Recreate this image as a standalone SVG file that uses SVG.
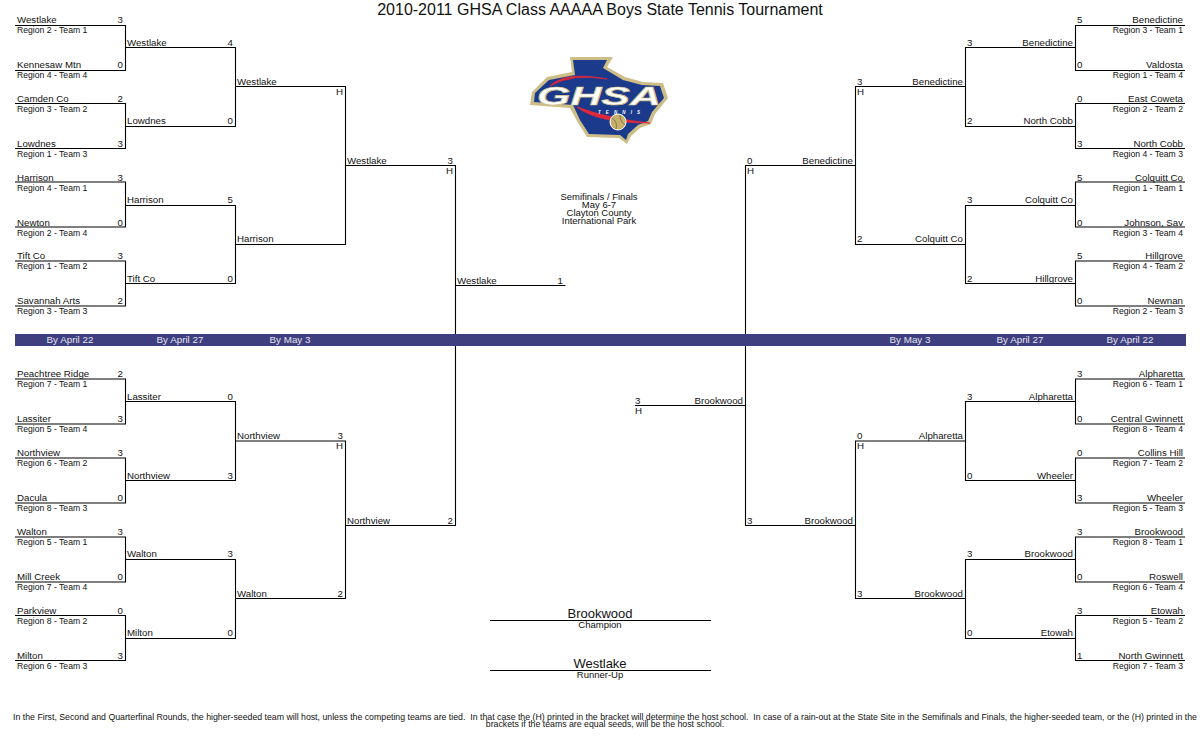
<svg xmlns="http://www.w3.org/2000/svg" width="1200" height="750" viewBox="0 0 1200 750">
<style>
text{font-family:"Liberation Sans",Arial,sans-serif;font-size:9.7px;fill:#111}
.e{text-anchor:end}.m{text-anchor:middle}
.r{font-size:8.65px}
.l{fill:none;stroke:#000;stroke-width:1.1}
.d{fill:#e4e4f0;font-size:9.8px;text-anchor:middle}
.c{font-size:9.5px;text-anchor:middle}
.f{font-size:8.75px;text-anchor:middle;white-space:pre}
</style>
<rect width="1200" height="750" fill="#fff"/>
<g id="connectors" class="l">
<path d="M15 25.5H125.5V70.5H15M15 103.5H125.5V148.5H15M15 182H125.5V227H15M15 261H125.5V306H15M15 379H125.5V424H15M15 458H125.5V503H15M15 537H125.5V582H15M15 615.5H125.5V660.5H15"/>
<path d="M125.5 47.5H235.5V126.5H125.5M125.5 205.5H235.5V283.5H125.5M125.5 401.5H235.5V480.5H125.5M125.5 559.5H235.5V638.5H125.5"/>
<path d="M235.5 86.5H345.5V244.5H235.5M235.5 441H345.5V598.5H235.5"/>
<path d="M345.5 165.5H455.5V525.5H345.5M455.5 285.5H565.5"/>
<path d="M1185 25.5H1075.5V70.5H1185M1185 103.5H1075.5V148.5H1185M1185 182H1075.5V227H1185M1185 261H1075.5V306H1185M1185 379H1075.5V424H1185M1185 458H1075.5V503H1185M1185 537H1075.5V582H1185M1185 615.5H1075.5V660.5H1185"/>
<path d="M1075.5 47.5H965.5V126.5H1075.5M1075.5 205.5H965.5V283.5H1075.5M1075.5 401.5H965.5V480.5H1075.5M1075.5 559.5H965.5V638.5H1075.5"/>
<path d="M965.5 86.5H855.5V244.5H965.5M965.5 441H855.5V598.5H965.5"/>
<path d="M855.5 165.5H745.5V525.5H855.5M745.5 405.5H635"/>
<path d="M490 620.5H711M490 670.5H711"/>
</g>
<g id="band"><rect x="15" y="334" width="1171" height="12" fill="#3f3f7f"/>
<text class="d" x="70" y="343">By April 22</text><text class="d" x="180" y="343">By April 27</text><text class="d" x="290" y="343">By May 3</text>
<text class="d" x="910" y="343">By May 3</text><text class="d" x="1020" y="343">By April 27</text><text class="d" x="1130" y="343">By April 22</text></g>
<g id="title"><text class="m" x="600" y="15" style="font-size:16px">2010-2011 GHSA Class AAAAA Boys State Tennis Tournament</text></g>
<g id="logo">
<path d="M570 57H613L607 67L625 77L643 82L663 83L668 98L655 114L651 124L640 128L631 136L627 144L619 138L587 137L577 121L570 108L530 105L532 92L547 77L572 72Z" fill="#cdbd86"/>
<path d="M573 60H607L603 68L623 80L642 85L660 86L664 98L652 112L648 121L638 125L628 134L626 140L620 135L589 134L580 120L573 105L534 102L535 93L549 80L575 75Z" fill="#1b3a8c"/>
<path d="M550 86Q565 71 607 79Q572 73 550 86ZM577 107Q597 123 650 123Q610 119 577 107Z" fill="#e2283a" stroke="#e2283a" stroke-width=".8"/>
<text id="ghsa" x="537" y="105" textLength="124" lengthAdjust="spacingAndGlyphs" style="font-size:25px;font-weight:bold;font-style:italic;fill:#fff;stroke:#cdbd86;stroke-width:.7">GHSA</text>
<text x="598" y="114" textLength="42" style="font-size:4.5px;font-weight:bold;font-style:italic;fill:#fff">TENNIS</text>
<circle cx="618" cy="122" r="8" fill="#c8b06a" stroke="#fff"/>
<path d="M612 118Q618 122 616 129M620 115Q620 122 625 125" fill="none" stroke="#5a5030" stroke-width=".6"/>
</g>
<g id="venue"><text class="c" x="599" y="200">Semifinals / Finals</text><text class="c" x="599" y="208">May 6-7</text><text class="c" x="599" y="216">Clayton County</text><text class="c" x="599" y="224">International Park</text></g>
<g id="champion"><text class="m" x="600" y="618" style="font-size:13px">Brookwood</text><text class="c" x="600" y="628">Champion</text></g>
<g id="runner-up"><text class="m" x="600" y="668" style="font-size:13px">Westlake</text><text class="c" x="600" y="678">Runner-Up</text></g>
<g id="footer"><text class="f" x="605" y="720">In the First, Second and Quarterfinal Rounds, the higher-seeded team will host, unless the competing teams are tied.  In that case the (H) printed in the bracket will determine the host school.  In case of a rain-out at the State Site in the Semifinals and Finals, the higher-seeded team, or the (H) printed in the</text><text class="f" x="605" y="727">brackets if the teams are equal seeds, will be the host school.</text></g>
<g id="left-round1">
<g id="l1"><text x="17" y="23">Westlake</text><text class="e" x="123" y="23">3</text><text class="r" x="17" y="33">Region 2 - Team 1</text></g>
<g id="l2"><text x="17" y="68">Kennesaw Mtn</text><text class="e" x="123" y="68">0</text><text class="r" x="17" y="78">Region 4 - Team 4</text></g>
<g id="l3"><text x="17" y="102">Camden Co</text><text class="e" x="123" y="102">2</text><text class="r" x="17" y="112">Region 3 - Team 2</text></g>
<g id="l4"><text x="17" y="147">Lowdnes</text><text class="e" x="123" y="147">3</text><text class="r" x="17" y="157">Region 1 - Team 3</text></g>
<g id="l5"><text x="17" y="181">Harrison</text><text class="e" x="123" y="181">3</text><text class="r" x="17" y="191">Region 4 - Team 1</text></g>
<g id="l6"><text x="17" y="226">Newton</text><text class="e" x="123" y="226">0</text><text class="r" x="17" y="236">Region 2 - Team 4</text></g>
<g id="l7"><text x="17" y="259">Tift Co</text><text class="e" x="123" y="259">3</text><text class="r" x="17" y="269">Region 1 - Team 2</text></g>
<g id="l8"><text x="17" y="304">Savannah Arts</text><text class="e" x="123" y="304">2</text><text class="r" x="17" y="314">Region 3 - Team 3</text></g>
<g id="l9"><text x="17" y="377">Peachtree Ridge</text><text class="e" x="123" y="377">2</text><text class="r" x="17" y="387">Region 7 - Team 1</text></g>
<g id="l10"><text x="17" y="422">Lassiter</text><text class="e" x="123" y="422">3</text><text class="r" x="17" y="432">Region 5 - Team 4</text></g>
<g id="l11"><text x="17" y="456">Northview</text><text class="e" x="123" y="456">3</text><text class="r" x="17" y="466">Region 6 - Team 2</text></g>
<g id="l12"><text x="17" y="501">Dacula</text><text class="e" x="123" y="501">0</text><text class="r" x="17" y="511">Region 8 - Team 3</text></g>
<g id="l13"><text x="17" y="535">Walton</text><text class="e" x="123" y="535">3</text><text class="r" x="17" y="545">Region 5 - Team 1</text></g>
<g id="l14"><text x="17" y="580">Mill Creek</text><text class="e" x="123" y="580">0</text><text class="r" x="17" y="590">Region 7 - Team 4</text></g>
<g id="l15"><text x="17" y="614">Parkview</text><text class="e" x="123" y="614">0</text><text class="r" x="17" y="624">Region 8 - Team 2</text></g>
<g id="l16"><text x="17" y="659">Milton</text><text class="e" x="123" y="659">3</text><text class="r" x="17" y="669">Region 6 - Team 3</text></g>
</g>
<g id="left-round2">
<g id="l17"><text x="127" y="46">Westlake</text><text class="e" x="233" y="46">4</text></g>
<g id="l18"><text x="127" y="124">Lowdnes</text><text class="e" x="233" y="124">0</text></g>
<g id="l19"><text x="127" y="203">Harrison</text><text class="e" x="233" y="203">5</text></g>
<g id="l20"><text x="127" y="282">Tift Co</text><text class="e" x="233" y="282">0</text></g>
<g id="l21"><text x="127" y="400">Lassiter</text><text class="e" x="233" y="400">0</text></g>
<g id="l22"><text x="127" y="479">Northview</text><text class="e" x="233" y="479">3</text></g>
<g id="l23"><text x="127" y="557">Walton</text><text class="e" x="233" y="557">3</text></g>
<g id="l24"><text x="127" y="636">Milton</text><text class="e" x="233" y="636">0</text></g>
</g>
<g id="left-round3">
<g id="l25"><text x="237" y="85">Westlake</text><text class="e" x="343" y="95">H</text></g>
<g id="l26"><text x="237" y="242">Harrison</text></g>
<g id="l27"><text x="237" y="439">Northview</text><text class="e" x="343" y="439">3</text><text class="e" x="343" y="449">H</text></g>
<g id="l28"><text x="237" y="597">Walton</text><text class="e" x="343" y="597">2</text></g>
</g>
<g id="left-round4">
<g id="l29"><text x="347" y="164">Westlake</text><text class="e" x="453" y="164">3</text><text class="e" x="453" y="174">H</text></g>
<g id="l30"><text x="347" y="524">Northview</text><text class="e" x="453" y="524">2</text></g>
<g id="l31"><text x="457" y="284">Westlake</text><text class="e" x="563" y="284">1</text></g>
</g>
<g id="right-round1">
<g id="r1"><text class="e" x="1183" y="23">Benedictine</text><text x="1077" y="23">5</text><text class="r e" x="1183" y="33">Region 3 - Team 1</text></g>
<g id="r2"><text class="e" x="1183" y="68">Valdosta</text><text x="1077" y="68">0</text><text class="r e" x="1183" y="78">Region 1 - Team 4</text></g>
<g id="r3"><text class="e" x="1183" y="102">East Coweta</text><text x="1077" y="102">0</text><text class="r e" x="1183" y="112">Region 2 - Team 2</text></g>
<g id="r4"><text class="e" x="1183" y="147">North Cobb</text><text x="1077" y="147">3</text><text class="r e" x="1183" y="157">Region 4 - Team 3</text></g>
<g id="r5"><text class="e" x="1183" y="181">Colquitt Co</text><text x="1077" y="181">5</text><text class="r e" x="1183" y="191">Region 1 - Team 1</text></g>
<g id="r6"><text class="e" x="1183" y="226">Johnson, Sav</text><text x="1077" y="226">0</text><text class="r e" x="1183" y="236">Region 3 - Team 4</text></g>
<g id="r7"><text class="e" x="1183" y="259">Hillgrove</text><text x="1077" y="259">5</text><text class="r e" x="1183" y="269">Region 4 - Team 2</text></g>
<g id="r8"><text class="e" x="1183" y="304">Newnan</text><text x="1077" y="304">0</text><text class="r e" x="1183" y="314">Region 2 - Team 3</text></g>
<g id="r9"><text class="e" x="1183" y="377">Alpharetta</text><text x="1077" y="377">3</text><text class="r e" x="1183" y="387">Region 6 - Team 1</text></g>
<g id="r10"><text class="e" x="1183" y="422">Central Gwinnett</text><text x="1077" y="422">0</text><text class="r e" x="1183" y="432">Region 8 - Team 4</text></g>
<g id="r11"><text class="e" x="1183" y="456">Collins Hill</text><text x="1077" y="456">0</text><text class="r e" x="1183" y="466">Region 7 - Team 2</text></g>
<g id="r12"><text class="e" x="1183" y="501">Wheeler</text><text x="1077" y="501">3</text><text class="r e" x="1183" y="511">Region 5 - Team 3</text></g>
<g id="r13"><text class="e" x="1183" y="535">Brookwood</text><text x="1077" y="535">3</text><text class="r e" x="1183" y="545">Region 8 - Team 1</text></g>
<g id="r14"><text class="e" x="1183" y="580">Roswell</text><text x="1077" y="580">0</text><text class="r e" x="1183" y="590">Region 6 - Team 4</text></g>
<g id="r15"><text class="e" x="1183" y="614">Etowah</text><text x="1077" y="614">3</text><text class="r e" x="1183" y="624">Region 5 - Team 2</text></g>
<g id="r16"><text class="e" x="1183" y="659">North Gwinnett</text><text x="1077" y="659">1</text><text class="r e" x="1183" y="669">Region 7 - Team 3</text></g>
</g>
<g id="right-round2">
<g id="r17"><text class="e" x="1073" y="46">Benedictine</text><text x="967" y="46">3</text></g>
<g id="r18"><text class="e" x="1073" y="124">North Cobb</text><text x="967" y="124">2</text></g>
<g id="r19"><text class="e" x="1073" y="203">Colquitt Co</text><text x="967" y="203">3</text></g>
<g id="r20"><text class="e" x="1073" y="282">Hillgrove</text><text x="967" y="282">2</text></g>
<g id="r21"><text class="e" x="1073" y="400">Alpharetta</text><text x="967" y="400">3</text></g>
<g id="r22"><text class="e" x="1073" y="479">Wheeler</text><text x="967" y="479">0</text></g>
<g id="r23"><text class="e" x="1073" y="557">Brookwood</text><text x="967" y="557">3</text></g>
<g id="r24"><text class="e" x="1073" y="636">Etowah</text><text x="967" y="636">0</text></g>
</g>
<g id="right-round3">
<g id="r25"><text class="e" x="963" y="85">Benedictine</text><text x="857" y="85">3</text><text x="857" y="95">H</text></g>
<g id="r26"><text class="e" x="963" y="242">Colquitt Co</text><text x="857" y="242">2</text></g>
<g id="r27"><text class="e" x="963" y="439">Alpharetta</text><text x="857" y="439">0</text><text x="857" y="449">H</text></g>
<g id="r28"><text class="e" x="963" y="597">Brookwood</text><text x="857" y="597">3</text></g>
</g>
<g id="right-round4">
<g id="r29"><text class="e" x="853" y="164">Benedictine</text><text x="747" y="164">0</text><text x="747" y="174">H</text></g>
<g id="r30"><text class="e" x="853" y="524">Brookwood</text><text x="747" y="524">3</text></g>
<g id="r31"><text class="e" x="743" y="404">Brookwood</text><text x="635" y="404">3</text><text x="635" y="414">H</text></g>
</g>
</svg>
